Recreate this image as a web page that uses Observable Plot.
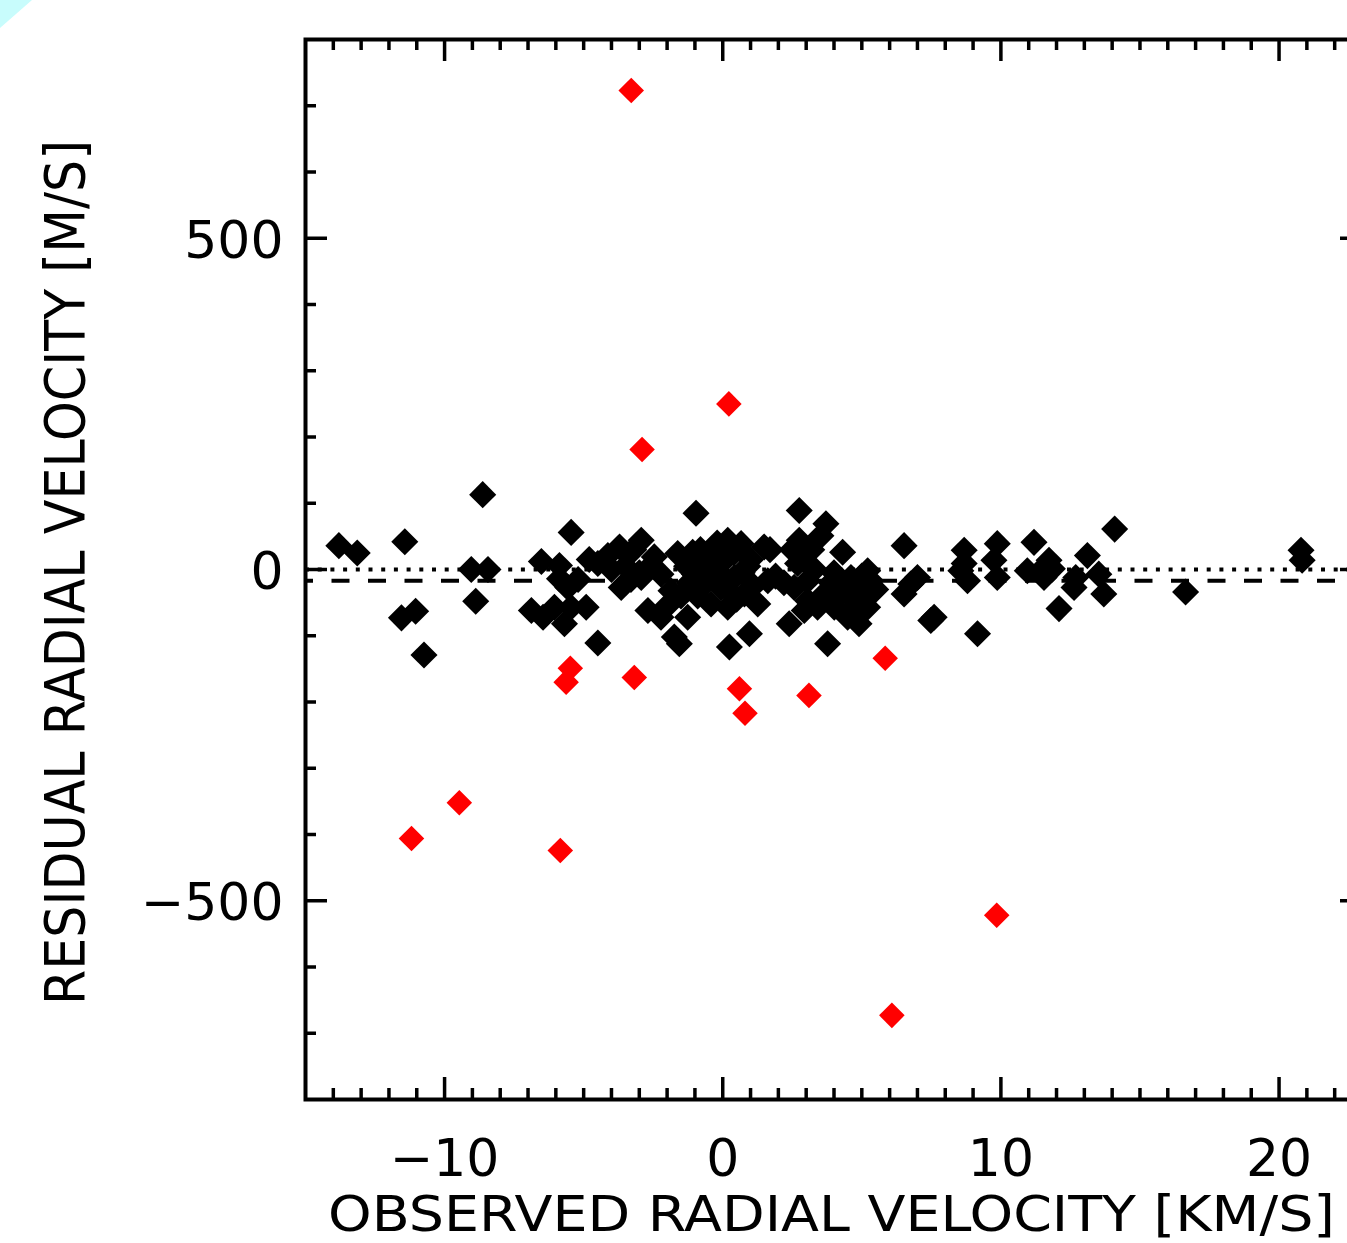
<!DOCTYPE html>
<html>
<head>
<meta charset="utf-8">
<script src="https://cdn.jsdelivr.net/npm/d3@7"></script>
<script src="https://cdn.jsdelivr.net/npm/@observablehq/plot@0.6"></script>
<style>
  html, body { margin: 0; padding: 0; background: white; overflow: hidden; }
  #chart svg { max-width: none !important; display: block; }
  #corner { position: absolute; left: 0; top: 0; width: 32px; height: 28px; background: #c8fcfc;
            clip-path: polygon(0 0, 100% 0, 0 100%); z-index: 2; }
</style>
</head>
<body>
<div id="corner"></div>
<div id="chart"></div>
<script>
// ---- Data ----
// Black diamonds: observed RV [km/s], residual RV [m/s]
const blackX = [-13.80,-13.14,-11.43,-11.55,-11.04,-10.74,-8.63,-9.04,-8.44,-8.88,
  -6.52,-5.87,-5.87,-5.45,-6.88,-6.46,-6.05,-5.69,-5.57,-5.45,-4.91,-4.49,
  -4.49,-4.13,-3.71,-2.93,-3.65,-2.93,-2.46,-2.22,-1.62,-1.08,-1.02,
  -2.69,-2.22,-1.74,-1.56,-1.26,-1.86,-0.96,
  -0.42,-0.06,0.06,0.18,0.66,1.49,0.18,0.78,1.26,0.42,1.62,0.24,0.96,
  2.39,2.75,2.75,2.69,2.57,3.05,
  3.71,3.53,4.31,6.52,2.93,3.05,2.93,3.41,3.77,
  4.61,4.97,5.21,5.32,4.49,4.90,4.61,5.21,4.01,3.53,
  6.52,7.00,6.76,7.48,7.60,9.16,
  8.68,8.68,8.56,8.80,9.87,9.75,9.87,
  11.19,10.95,11.43,11.73,
  14.09,11.85,11.55,13.11,13.52,12.69,12.63,13.70,12.09,16.64,20.79,20.83,
  -3.3,-2.6,-1.3,-0.6,-0.3,0.9,1.1,1.9,-3.2,-0.8,-2.0,-1.5,-0.9,0.5,1.7,2.2,
  3.3,3.9,4.3,4.7,5.0,5.5,2.5,3.2,4.0,-4.8,-5.2,-0.2,0.4,
  -0.7,0.0,0.3,0.7,-0.4,1.0,-1.2,-4.0,-3.5,-3.0];
const blackY = [36,25,42,-73,-63,-129,113,0,0,-48,
  12,6,-14,56,-62,-72,-57,-82,-27,-57,-57,-111,
  9,21,34,44,-27,-12,19,-7,24,26,-7,
  -62,-72,-102,-112,-72,-32,85,
  -52,-27,14,44,39,34,-57,-37,-52,-12,-17,-117,-97,
  -82,89,44,9,-27,-47,
  69,51,26,36,14,-17,-62,-57,-112,
  -12,-32,-2,-17,-72,-82,-62,-57,-57,-42,
  -37,-12,-22,-77,-72,-97,
  29,9,-2,-17,39,14,-12,
  41,-2,-2,14,
  61,1,-12,21,-7,-12,-27,-37,-59,-34,29,14,
  -15,5,5,-20,5,5,-25,-10,30,30,-55,-40,-40,-45,30,-20,
  0,-20,-35,-45,-10,-30,30,30,-5,15,-15,40,25,
  10,-10,-35,-5,20,15,-20,0,5,-5];

// Red diamonds (outliers)
const redX = [-3.29,0.22,-2.90,5.84,-5.48,-5.63,-3.18,0.60,0.80,3.10,-9.47,-11.19,-5.84,9.85,6.08];
const redY = [723,250,181,-134,-149,-170,-163,-180,-217,-190,-352,-406,-424,-522,-673];

// Reference lines
const zeroLevel = [0];
const meanResidual = [-17];

// Axes
const xDomain = [-15, 23];
const yDomain = [-800, 800];
const xMajorTicks = [-10, 0, 10, 20];
const xMinorTicks = d3.range(-14, 23).filter(v => v % 10 !== 0);
const yMajorTicks = [-500, 0, 500];
const yMinorTicks = d3.range(-700, 800, 100).filter(v => v % 500 !== 0);
const xTitle = "OBSERVED RADIAL VELOCITY [KM/S]";
const yTitle = "RESIDUAL RADIAL VELOCITY [M/S]";

// ---- Build ----
const black = blackX.map((x, i) => ({x, y: blackY[i]}));
const red = redX.map((x, i) => ({x, y: redY[i]}));
const fmt = d => d < 0 ? "\u2212" + Math.abs(d) : String(d);

const width = 1372, height = 1243;
const mL = 305, mR = 10, mT = 39, mB = 144;
const innerW = width - mL - mR, innerH = height - mT - mB;
const majLen = 22, minLen = 11, tickW = 3.5;

const chart = Plot.plot({
  width, height,
  marginLeft: mL, marginRight: mR, marginTop: mT, marginBottom: mB,
  x: {domain: xDomain},
  y: {domain: yDomain},
  style: {fontFamily: "'DejaVu Sans', sans-serif", background: "white", maxWidth: "none", color: "black"},
  marks: [
    Plot.ruleY(zeroLevel, {stroke: "black", strokeWidth: 4, strokeDasharray: "4,8.7"}),
    Plot.ruleY(meanResidual, {stroke: "black", strokeWidth: 4, strokeDasharray: "18,18.5", strokeDashoffset: 10}),
    Plot.dot(black, {x: "x", y: "y", symbol: "diamond2", r: 12.2, fill: "black", stroke: "none"}),
    Plot.dot(red, {x: "x", y: "y", symbol: "diamond2", r: 11.5, fill: "#ff0000", stroke: "none"}),
    // bottom ticks
    Plot.ruleX(xMajorTicks, {stroke: "black", strokeWidth: tickW, insetTop: innerH - majLen}),
    Plot.ruleX(xMinorTicks, {stroke: "black", strokeWidth: tickW, insetTop: innerH - minLen}),
    // top ticks
    Plot.ruleX(xMajorTicks, {stroke: "black", strokeWidth: tickW, insetBottom: innerH - majLen}),
    Plot.ruleX(xMinorTicks, {stroke: "black", strokeWidth: tickW, insetBottom: innerH - minLen}),
    // left ticks
    Plot.ruleY(yMajorTicks, {stroke: "black", strokeWidth: tickW, insetRight: innerW - majLen}),
    Plot.ruleY(yMinorTicks, {stroke: "black", strokeWidth: tickW, insetRight: innerW - minLen}),
    // right ticks
    Plot.ruleY(yMajorTicks, {stroke: "black", strokeWidth: tickW, insetLeft: innerW - majLen}),
    Plot.ruleY(yMinorTicks, {stroke: "black", strokeWidth: tickW, insetLeft: innerW - minLen}),
    Plot.frame({stroke: "black", strokeWidth: 4}),
    Plot.axisX({anchor: "bottom", ticks: xMajorTicks, tickSize: 0, tickPadding: 40, fontSize: 52,
                tickFormat: fmt, label: null, fill: "black"}),
    Plot.axisY({anchor: "left", ticks: yMajorTicks, tickSize: 0, tickPadding: 22, fontSize: 52,
                tickFormat: fmt, label: null, fill: "black", dy: 3})
  ]
});

document.getElementById("chart").appendChild(chart);

const svg = d3.select(chart);
svg.append("text")
  .attr("x", 831.5).attr("y", 1231)
  .attr("text-anchor", "middle")
  .attr("font-family", "'DejaVu Sans', sans-serif")
  .attr("font-size", 50)
  .attr("fill", "black")
  .attr("textLength", 1007)
  .attr("lengthAdjust", "spacingAndGlyphs")
  .text(xTitle);
svg.append("text")
  .attr("transform", "translate(84,572.5) rotate(-90)")
  .attr("text-anchor", "middle")
  .attr("font-family", "'DejaVu Sans', sans-serif")
  .attr("font-size", 55)
  .attr("fill", "black")
  .attr("textLength", 865)
  .attr("lengthAdjust", "spacingAndGlyphs")
  .text(yTitle);
</script>
</body>
</html>
